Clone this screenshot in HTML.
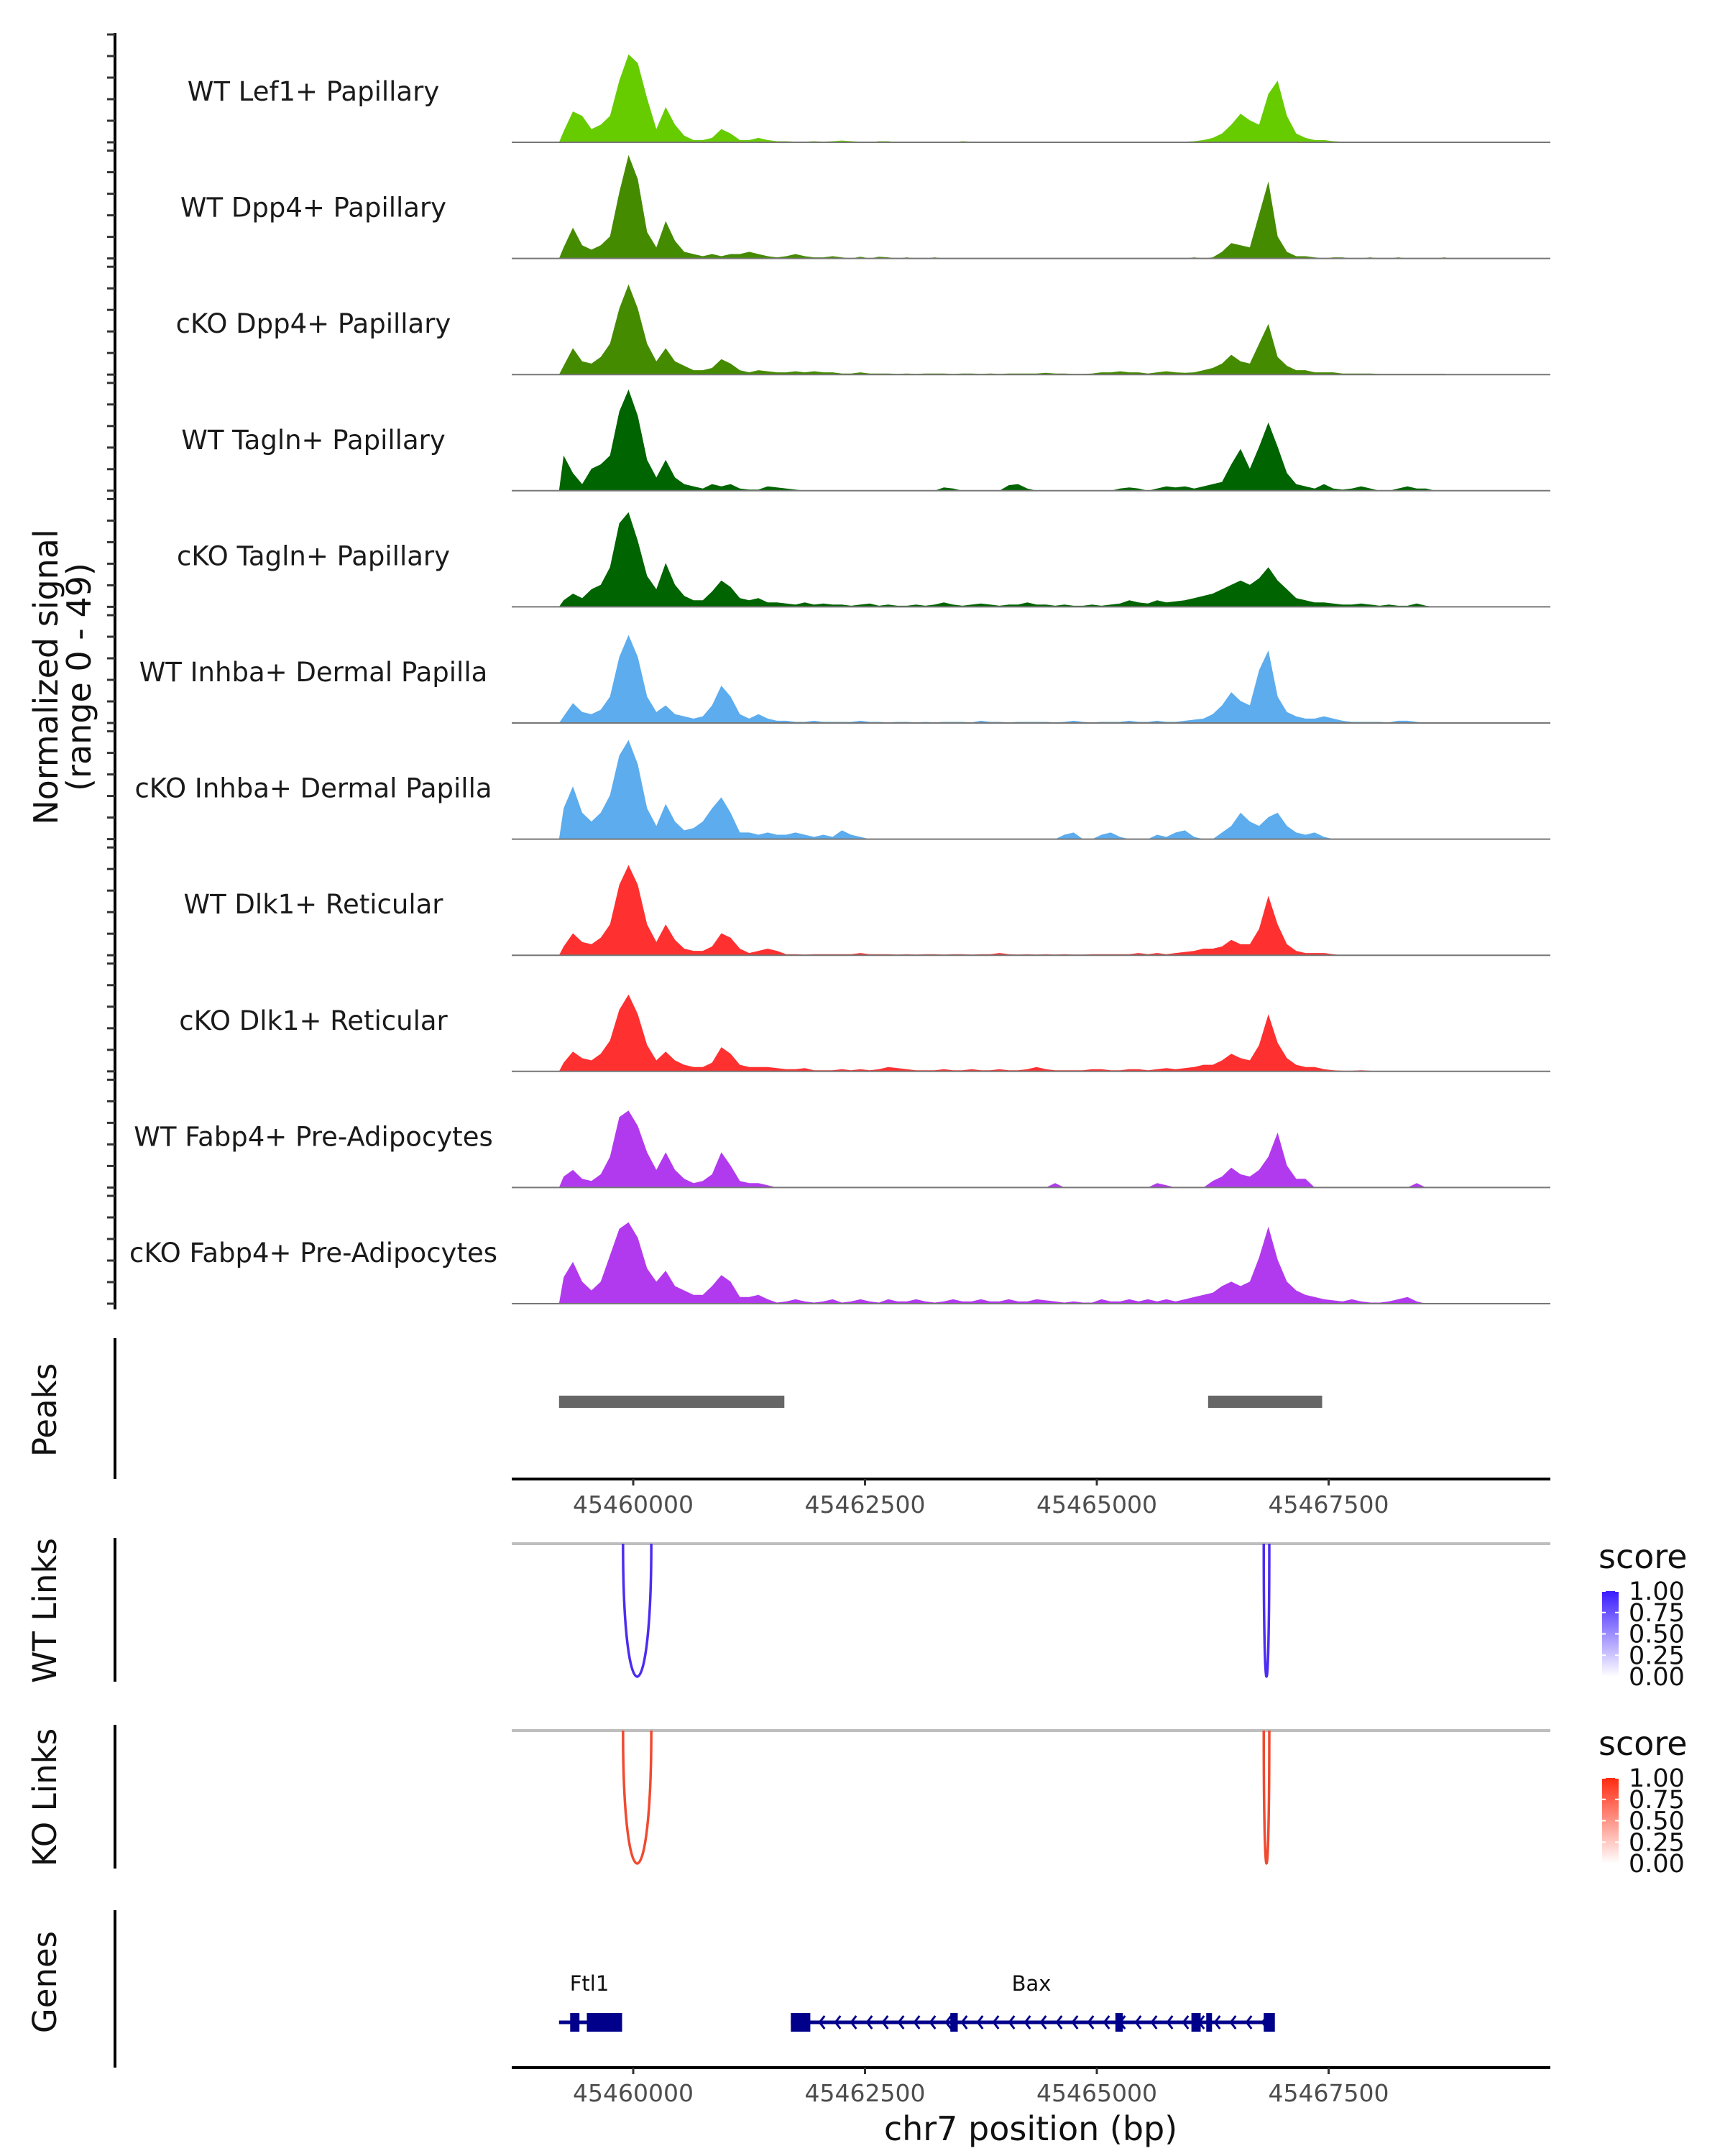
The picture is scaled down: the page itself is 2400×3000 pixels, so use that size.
<!DOCTYPE html>
<html><head><meta charset="utf-8"><style>
html,body{margin:0;padding:0;background:#fff;}
svg{display:block;font-family:"DejaVu Sans","Liberation Sans",sans-serif;}
</style></head><body>
<svg id="chart" width="2400" height="3000" viewBox="0 0 2400 3000">
<defs>
<linearGradient id="gwt" x1="0" y1="1" x2="0" y2="0"><stop offset="0" stop-color="#ffffff"/><stop offset="1" stop-color="#3a1cff"/></linearGradient>
<linearGradient id="gko" x1="0" y1="1" x2="0" y2="0"><stop offset="0" stop-color="#ffffff"/><stop offset="1" stop-color="#ff2a10"/></linearGradient>
</defs>
<g id="tracks"></g>
<text transform="translate(80,942) rotate(-90)" text-anchor="middle" font-size="46" fill="#111"><tspan x="0" dy="0">Normalized signal</tspan><tspan x="0" dy="46">(range 0 - 49)</tspan></text>
<g id="peaks"></g>
<g id="links"></g>
<g id="genes"></g>
</svg>
<script>
// ---------- data ----------
const trackLabels = ["WT Lef1+ Papillary","WT Dpp4+ Papillary","cKO Dpp4+ Papillary","WT Tagln+ Papillary","cKO Tagln+ Papillary","WT Inhba+ Dermal Papilla","cKO Inhba+ Dermal Papilla","WT Dlk1+ Reticular","cKO Dlk1+ Reticular","WT Fabp4+ Pre-Adipocytes","cKO Fabp4+ Pre-Adipocytes"];
const trackColors = ["#66cc00","#458b00","#458b00","#006400","#006400","#5cacee","#5cacee","#ff3030","#ff3030","#b23aee","#b23aee"];
const binStart = 45459200, binSize = 100;
const sigLef1 = [5,14,12,6,8,12,28,40,36,20, 6,16,8,3,1,1,2,6,4,1, 1,2,1,0.5,0.5,0.3,0.3,0.5,0.3,0.5, 0.8,0.5,0.3,0,0.5,0.5,0,0,0,0, 0,0,0,0.5,0.3,0,0,0,0,0, 0,0,0,0,0,0,0,0,0,0, 0.3,0,0,0,0,0,0.3,0.3,0.5,1, 2,4,8,13,10,8,22,28,12,4, 2,1,1,0.5,0.3,0,0,0.3,0,0, 0,0,0,0,0,0];
const sigDpp4WT = [5,14,6,4,6,10,30,47,36,12, 5,17,8,3,2,1,2,1,2,2, 3,2,1,0.5,1,2,1,0.5,0.5,1, 0.5,0,0.8,0,0.8,0.5,0,0.5,0,0, 0.5,0,0,0,0,0,0,0,0,0, 0,0,0,0,0,0,0,0,0,0, 0,0,0,0,0,0,0,0,0.5,0, 0.5,3,7,6,5,20,35,10,3,1, 1,0.5,0,0.5,0.5,0,0,0.5,0,0, 0.5,0,0,0,0,0.5];
const sigDpp4KO = [4,12,6,5,8,14,30,41,30,14, 6,12,6,4,2,2,3,7,5,2, 1,2,1.5,1,1,1.5,1,1.5,1,1, 0.5,0.5,1,0.5,0.5,0.5,0.3,0.5,0.3,0.5, 0.5,0.5,0.3,0.5,0.5,0.3,0.5,0.3,0.5,0.5, 0.5,0.5,0.8,0.5,0.5,0.3,0.3,0.5,1,1, 1.5,1,1,0.5,1,1.5,1,0.8,1,2, 3,5,9,6,5,14,23,8,4,2, 2,1,1,1,0.5,0.5,0.5,0.5,0.3,0.3, 0.3,0.3,0.3,0.3,0.3,0.3];
const sigTaglnWT = [16,8,3,10,12,16,36,46,34,14, 6,14,6,3,2,1,3,2,3,1, 0.5,0.5,2,1.5,1,0.5,0,0,0,0, 0,0,0,0,0,0,0,0,0,0, 0,1.5,1,0,0,0,0,0,2.5,3, 1,0,0,0,0,0,0,0,0,0, 1,1.5,1,0,1,2,1.5,2,1,2, 3,4,12,19,10,20,31,20,8,3, 2,1,3,1,0.5,1,2,1,0,0, 1,2,1,1,0,0];
const sigTaglnKO = [3,6,4,8,10,18,38,43,30,14, 8,20,10,5,3,3,7,12,9,4, 3,4,2,2,1.5,1,2,1,1.5,1, 1,0.5,1,1.5,0.5,1,0.5,0.5,1,0.5, 1,2,1,0.5,1,1.5,1,0.5,1,1, 2,1,1,0.5,1,0.5,0.5,1,0.5,1, 1.5,3,2,1.5,3,2,2.5,3,4,5, 6,8,10,12,10,13,18,12,8,4, 3,2,2,1.5,1,1,1.5,1,0.5,1, 0.5,0.5,1.5,0.5,0,0];
const sigInhbaWT = [3,9,5,4,6,12,30,40,30,12, 5,8,4,3,2,3,8,17,12,4, 2,4,2,1,1,0.5,0.5,1,0.5,0.5, 0.5,0.5,1,0.5,0.5,0.3,0.5,0.5,0.3,0.5, 0.3,0.5,0.5,0.5,0.3,1,0.5,0.5,0.3,0.5, 0.5,0.5,0.5,0.3,0.5,1,0.5,0.3,0.5,0.5, 0.5,1,0.5,0.5,1,0.5,0.5,1,1.5,2, 4,8,14,10,8,24,33,12,5,3, 2,2,3,2,1,0.5,0.5,0.5,0.5,0.3, 1,1,0.5,0,0,0];
const sigInhbaKO = [14,24,12,8,12,20,38,45,34,14, 6,16,8,4,5,8,14,19,12,3, 3,2,3,2,2,3,2,1,2,1, 4,2,1,0,0,0,0,0,0,0, 0,0,0,0,0,0,0,0,0,0, 0,0,0,0,2,3,0,0,2,3, 1,0,0,0,2,1,3,4,1,0, 0,3,6,12,8,6,10,12,6,3, 2,3,1,0,0,0,0,0,0,0, 0,0,0,0,0,0];
const sigDlk1WT = [4,10,6,5,8,14,32,41,32,14, 6,14,7,3,2,2,4,10,8,3, 1,2,3,2,0.5,0.5,0.3,0.5,0.5,0.5, 0.5,0.5,1,0.5,0.5,0.5,0.3,0.5,0.3,0.5, 0.5,0.3,0.5,0.5,0.3,0.5,0.5,1,0.5,0.3, 0.5,0.3,0.5,0.3,0.5,0.3,0.3,0.5,0.5,0.5, 0.5,0.5,1,0.5,1,0.5,1,1.5,2,3, 3,4,7,5,5,12,27,14,5,2, 1,1,1,0.5,0,0,0,0,0,0, 0,0,0,0,0,0];
const sigDlk1KO = [4,9,6,5,8,14,28,35,26,12, 5,9,5,3,2,2,4,11,8,3, 2,2,2,1.5,1,1,1.5,0.5,0.5,0.5, 1,0.5,1,0.5,1,2,1.5,1,0.5,0.5, 0.5,1,0.5,0.5,1,0.5,0.5,1,0.5,0.5, 1,2,1,0.5,0.5,0.5,0.5,1,1,0.5, 0.5,1,1,0.5,1,1.5,1,1.5,2,3, 3,5,8,6,5,12,26,13,6,3, 2,2,1,0.5,0.3,0.3,0.5,0.3,0,0, 0,0,0,0,0,0];
const sigFabp4WT = [5,8,4,3,6,14,32,35,28,16, 8,16,8,4,2,3,6,16,10,3, 2,2,1,0,0,0,0,0,0,0, 0,0,0,0,0,0,0,0,0,0, 0,0,0,0,0,0,0,0,0,0, 0,0,0,2,0,0,0,0,0,0, 0,0,0,0,2,1,0,0,0,0, 3,5,9,6,5,8,14,25,10,4, 4,0,0,0,0,0,0,0,0,0, 0,0,2,0,0,0];
const sigFabp4KO = [12,19,10,6,10,22,34,37,30,16, 10,15,8,6,4,4,8,13,10,3, 3,4,2,0.5,1,2,1,0.5,1,2, 0.5,1,2,1,0.5,2,1,1,2,1, 0.5,1,2,1,1,2,1,1,2,1, 1,2,1.5,1,0.5,1,0.5,0.5,2,1, 1,2,1,2,1,2,1,2,3,4, 5,8,10,8,10,21,35,20,10,6, 4,3,2,1.5,1,2,1,0.5,0.5,1, 2,3,1,0,0,0];
const trackSignals = [sigLef1,sigDpp4WT,sigDpp4KO,sigTaglnWT,sigTaglnKO,sigInhbaWT,sigInhbaKO,sigDlk1WT,sigDlk1KO,sigFabp4WT,sigFabp4KO];
const yMax = 49;
const xTicks = [45460000,45462500,45465000,45467500];
const xTickLabels = ["45460000","45462500","45465000","45467500"];
const peakRanges = [[45459200,45461630],[45466200,45467430]];
const wtLinkStarts = [45459890,45466800];
const wtLinkEnds = [45460195,45466860];
const wtLinkScores = [0.85,0.85];
const koLinkStarts = [45459890,45466800];
const koLinkEnds = [45460195,45466860];
const koLinkScores = [0.8,0.8];
const legendTicks = ["1.00","0.75","0.50","0.25","0.00"];
const geneNames = ["Ftl1","Bax"];
const geneStarts = [45459200,45461700];
const geneEnds = [45459880,45466880];
const ftl1Exons = [[45459320,45459420],[45459500,45459880]];
const baxExons = [[45461700,45461910],[45463420,45463500],[45465200,45465280],[45466020,45466120],[45466180,45466220],[45466800,45466920]];
const geneExons = [ftl1Exons, baxExons];

// ---------- scales ----------
const X0 = 712, X1 = 2157, BP0 = 45458690, BP1 = 45469891;
const xs = bp => X0 + (bp - BP0) / (BP1 - BP0) * (X1 - X0);
const NS = "http://www.w3.org/2000/svg";
function mk(tag, attrs, parent){ const e = document.createElementNS(NS, tag); for (const k in attrs) e.setAttribute(k, attrs[k]); parent.appendChild(e); return e; }

// ---------- tracks ----------
const gT = document.getElementById('tracks');
const TRACK_H = 150, BASE0 = 198, STEP = 161.6;
const axisL = mk('line', {x1:160, y1:46, x2:160, y2:1822, stroke:'#000', 'stroke-width':4}, gT);


trackSignals.forEach((sig, k) => {
  const base = BASE0 + STEP * k;
  const ys = v => base - v / yMax * TRACK_H;
  const g = mk('g', {}, gT);
  
  
  for (let t = 0; t <= 5; t++) {
    const tk = mk('line', {x1:149, x2:160, y1:base - t*30, y2:base - t*30, stroke:'#333', 'stroke-width':3}, g);
    
    
  }
  let d = 'M' + xs(binStart).toFixed(1) + ',' + base;
  sig.forEach((v, i) => {
    const xc = xs(binStart + (i+0.5)*binSize);
    d += ' L' + xc.toFixed(1) + ',' + ys(v).toFixed(1);
  });
  d += ' L' + xs(binStart + sig.length*binSize).toFixed(1) + ',' + base + 'Z';
  const p = mk('path', {d:d, fill:trackColors[k]}, g);
  
  
  const bl = mk('line', {x1:X0, x2:X1, y1:base, y2:base, stroke:'#777', 'stroke-width':2}, g);
  
  
  const lb = mk('text', {x:436, y:base - 58, 'text-anchor':'middle', 'font-size':37, fill:'#1a1a1a'}, g);
  lb.textContent = trackLabels[k];
  
  
});

// ---------- helpers ----------
function panelLabel(parent, text, cy, name){
  const t = mk('text', {transform:'translate(78,' + cy + ') rotate(-90)', 'text-anchor':'middle', 'font-size':45, fill:'#111'}, parent);
  t.textContent = text;
  
  
}
function vAxis(parent, y1, y2, name){
  const l = mk('line', {x1:160, x2:160, y1:y1, y2:y2, stroke:'#000', 'stroke-width':4}, parent);
  
  
}
function xAxis(parent, y, name){
  const g = mk('g', {}, parent);
  
  
  mk('line', {x1:X0, x2:X1, y1:y, y2:y, stroke:'#000', 'stroke-width':4}, g);
  xTicks.forEach((bp, i) => {
    mk('line', {x1:xs(bp), x2:xs(bp), y1:y, y2:y+9, stroke:'#333', 'stroke-width':3}, g);
    const t = mk('text', {x:xs(bp), y:y+47, 'text-anchor':'middle', 'font-size':33, fill:'#4d4d4d'}, g);
    t.textContent = xTickLabels[i];
    
    
  });
}

// ---------- peaks ----------
const gP = document.getElementById('peaks');
panelLabel(gP, 'Peaks', 1962, 'peaks-label');
vAxis(gP, 1862, 2058, 'peaks-axis');
peakRanges.forEach(r => {
  const b = mk('rect', {x:xs(r[0]), y:1942, width:xs(r[1]) - xs(r[0]), height:17, fill:'#666'}, gP);
  
  
});
xAxis(gP, 2058, 'peaks-x-axis');

// ---------- links ----------
const gL = document.getElementById('links');
function linkPanel(label, top, starts, ends, scores, color, grad, name){
  const g = mk('g', {}, gL);
  
  
  panelLabel(g, label, top + 93, name + '-label');
  vAxis(g, top - 8, top + 192, name + '-axis');
  mk('line', {x1:X0, x2:X1, y1:top, y2:top, stroke:'#bebebe', 'stroke-width':4}, g);
  const depth = 185;
  starts.forEach((s, i) => {
    const xa = xs(s), xb = xs(ends[i]);
    const dd = depth * 1.333;
    const p = mk('path', {d:'M'+xa+','+top+' C'+xa+','+(top+dd)+' '+xb+','+(top+dd)+' '+xb+','+top, fill:'none', stroke:color, 'stroke-width':3.5, 'data-score':scores[i]}, g);
    
    
  });
  const st = mk('text', {x:2224, y:top + 34, 'font-size':46, fill:'#111'}, g);
  st.textContent = 'score';
  
  
  const cb = mk('rect', {x:2229, y:top + 66, width:23, height:119, fill:'url(#' + grad + ')'}, g);
  
  
  legendTicks.forEach((tl, i) => {
    const yy = top + 66 + i * 29.75;
    mk('line', {x1:2229, x2:2234, y1:yy, y2:yy, stroke:'#fff', 'stroke-width':2}, g);
    mk('line', {x1:2247, x2:2252, y1:yy, y2:yy, stroke:'#fff', 'stroke-width':2}, g);
    const t = mk('text', {x:2266, y:yy + 12, 'font-size':35, fill:'#111'}, g);
    t.textContent = tl;
    
    
  });
}
linkPanel('WT Links', 2148, wtLinkStarts, wtLinkEnds, wtLinkScores, '#4d2cf0', 'gwt', 'wt-links');
linkPanel('KO Links', 2408, koLinkStarts, koLinkEnds, koLinkScores, '#f04a30', 'gko', 'ko-links');

// ---------- genes ----------
const gG = document.getElementById('genes');
panelLabel(gG, 'Genes', 2758, 'genes-label');
vAxis(gG, 2658, 2877, 'genes-axis');
const GY = 2814;
geneNames.forEach((nm, i) => {
  const g = mk('g', {}, gG);
  
  
  const xa = xs(geneStarts[i]), xb = xs(geneEnds[i]);
  mk('line', {x1:xa, x2:xb, y1:GY, y2:GY, stroke:'#00008b', 'stroke-width':5}, g);
  for (let ax = xa + 18; ax < xb - 10; ax += 22) {
    mk('path', {d:'M'+(ax+7)+','+(GY-9)+' L'+ax+','+GY+' L'+(ax+7)+','+(GY+9), fill:'none', stroke:'#00008b', 'stroke-width':3}, g);
  }
  geneExons[i].forEach(e => {
    const r = mk('rect', {x:xs(e[0]), y:GY-13, width:Math.max(8, xs(e[1]) - xs(e[0])), height:26, fill:'#00008b'}, g);
    
    
  });
  const lx = i === 0 ? 820 : 1435;
  const t = mk('text', {x:lx, y:2770, 'text-anchor':'middle', 'font-size':29, fill:'#111'}, g);
  t.textContent = nm;
  
  
});
xAxis(gG, 2877, 'genes-x-axis');
const xt = mk('text', {x:1434, y:2978, 'text-anchor':'middle', 'font-size':46, fill:'#111'}, gG);
xt.textContent = 'chr7 position (bp)';


</script>
</body></html>
